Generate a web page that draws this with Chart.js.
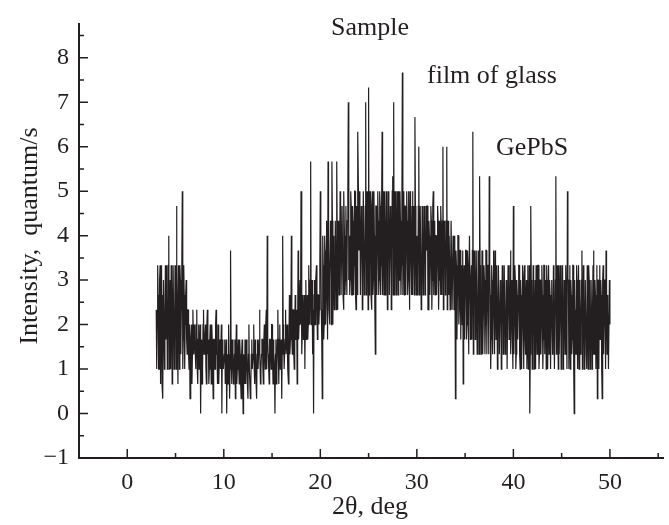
<!DOCTYPE html>
<html>
<head>
<meta charset="utf-8">
<script src="https://cdn.jsdelivr.net/npm/chart.js@4.4.1/dist/chart.umd.min.js"></script>
<style>
  html, body { margin: 0; padding: 0; background: #fff; }
  #wrap { width: 669px; height: 525px; }
</style>
</head>
<body>
<div id="wrap"><canvas id="xrd"></canvas></div>
<script>
// DATA
// scan grid, 2theta in deg
const scanStart = 3.0;
const scanStep = 0.05;
// counts per 3 s window (one row = 1 deg)
const counts = [
  7, 3, 6, 10, 8, 3, 3, 9, 10, 2, 6, 10, 2, 8, 1, 9, 9, 3, 6, 10,
  5, 10, 8, 3, 4, 10, 12, 3, 7, 9, 3, 10, 9, 2, 6, 10, 10, 3, 5, 10,
  8, 3, 14, 10, 6, 2, 10, 9, 3, 10, 9, 4, 7, 10, 15, 3, 5, 10, 8, 3,
  6, 8, 9, 5, 4, 7, 7, 4, 3, 6, 1, 3, 5, 6, 2, 4, 7, 5, 4, 6,
  5, 4, 3, 6, 7, 3, 2, 5, 6, 3, 4, 6, 0, 4, 5, 2, 3, 6, 7, 4,
  4, 5, 6, 3, 2, 6, 7, 4, 5, 2, 3, 5, 6, 4, 2, 6, 5, 3, 1, 5,
  5, 3, 3, 6, 7, 4, 4, 2, 6, 5, 2, 4, 5, 3, 3, 6, 0, 5, 4, 3,
  3, 4, 5, 2, 2, 5, 0, 3, 4, 2, 6, 4, 1, 3, 11, 5, 3, 2, 5, 4,
  2, 3, 4, 5, 1, 4, 6, 2, 3, 4, 5, 3, 2, 5, 4, 2, 1, 4, 5, 3,
  0, 4, 3, 2, 5, 3, 2, 5, 4, 2, 1, 4, 6, 3, 3, 1, 2, 4, 5, 3,
  3, 4, 6, 3, 2, 5, 4, 2, 1, 4, 5, 3, 3, 5, 7, 4, 2, 3, 4, 5,
  5, 3, 2, 5, 6, 4, 3, 6, 7, 3, 12, 5, 4, 3, 2, 5, 5, 4, 3, 6,
  6, 4, 2, 5, 4, 3, 0, 4, 5, 2, 3, 5, 7, 4, 2, 5, 6, 3, 4, 5,
  1, 4, 12, 6, 5, 3, 3, 5, 7, 4, 4, 6, 6, 3, 2, 5, 8, 4, 5, 6,
  12, 5, 4, 7, 7, 4, 3, 6, 8, 5, 5, 7, 2, 6, 11, 5, 6, 8, 9, 6,
  15, 7, 4, 6, 8, 5, 6, 8, 3, 7, 9, 5, 7, 8, 5, 6, 10, 7, 6, 9,
  17, 6, 8, 9, 4, 7, 0, 8, 9, 6, 6, 9, 10, 7, 5, 8, 8, 6, 7, 10,
  15, 12, 7, 5, 1, 12, 10, 5, 6, 12, 11, 6, 8, 13, 9, 5, 17, 12, 7, 6,
  9, 13, 12, 6, 17, 13, 6, 12, 10, 7, 8, 13, 13, 7, 17, 12, 7, 13, 11, 8,
  10, 15, 13, 8, 8, 14, 14, 8, 7, 15, 12, 8, 9, 14, 11, 8, 13, 15, 21, 9,
  12, 8, 9, 15, 14, 8, 8, 14, 13, 8, 10, 15, 15, 8, 7, 14, 12, 8, 19, 15,
  11, 15, 14, 8, 8, 14, 13, 7, 10, 15, 15, 8, 9, 14, 21, 8, 12, 15, 11, 7,
  22, 8, 10, 15, 13, 8, 7, 14, 15, 8, 9, 15, 12, 7, 4, 14, 14, 8, 11, 15,
  13, 8, 9, 15, 14, 8, 10, 14, 19, 8, 12, 15, 8, 14, 15, 8, 11, 15, 13, 7,
  10, 15, 14, 8, 8, 14, 13, 7, 11, 15, 16, 8, 21, 8, 9, 15, 14, 8, 12, 15,
  11, 8, 15, 14, 9, 15, 13, 8, 10, 14, 23, 8, 12, 15, 8, 14, 14, 8, 11, 15,
  13, 8, 9, 15, 12, 7, 15, 14, 10, 8, 14, 15, 8, 14, 13, 8, 20, 14, 11, 8,
  12, 8, 9, 14, 18, 8, 11, 14, 14, 7, 8, 14, 12, 8, 10, 14, 13, 8, 9, 14,
  11, 14, 14, 7, 7, 13, 12, 8, 10, 14, 13, 7, 9, 14, 15, 8, 11, 13, 8, 12,
  12, 8, 10, 14, 13, 7, 9, 13, 11, 8, 14, 12, 8, 13, 18, 7, 10, 13, 12, 8,
  9, 13, 18, 7, 11, 13, 8, 12, 12, 7, 10, 13, 13, 7, 7, 12, 11, 7, 9, 12,
  1, 11, 10, 5, 8, 12, 12, 6, 7, 11, 11, 5, 9, 10, 6, 11, 2, 9, 10, 5,
  8, 11, 11, 5, 6, 11, 10, 4, 7, 12, 12, 5, 9, 10, 5, 11, 19, 4, 8, 11,
  10, 5, 7, 11, 11, 4, 6, 11, 9, 4, 16, 10, 8, 4, 5, 11, 10, 4, 7, 10,
  9, 4, 6, 11, 11, 4, 7, 10, 10, 4, 16, 10, 8, 3, 5, 10, 9, 4, 7, 11,
  8, 4, 11, 8, 5, 10, 9, 3, 7, 10, 10, 4, 4, 9, 8, 3, 6, 10, 9, 4,
  7, 10, 10, 4, 5, 9, 8, 3, 3, 10, 9, 5, 6, 10, 11, 4, 7, 9, 5, 3,
  14, 4, 6, 10, 9, 3, 4, 9, 8, 5, 7, 10, 10, 4, 3, 9, 8, 3, 6, 10,
  7, 3, 9, 10, 5, 4, 8, 9, 3, 5, 10, 3, 6, 10, 0, 4, 14, 9, 8, 3,
  5, 10, 9, 3, 6, 9, 3, 10, 8, 4, 7, 10, 10, 3, 4, 9, 9, 4, 6, 10,
  8, 3, 5, 10, 10, 4, 6, 9, 3, 10, 9, 3, 7, 10, 4, 9, 8, 3, 6, 9,
  9, 4, 5, 10, 7, 3, 3, 9, 16, 4, 8, 10, 6, 3, 10, 4, 4, 10, 7, 3,
  6, 10, 9, 3, 4, 9, 8, 4, 5, 10, 7, 3, 15, 9, 9, 3, 6, 10, 3, 9,
  8, 4, 5, 10, 10, 3, 0, 9, 7, 4, 4, 10, 9, 3, 6, 10, 3, 9, 8, 4,
  6, 9, 11, 3, 4, 10, 8, 3, 5, 9, 9, 4, 3, 10, 7, 3, 10, 9, 6, 3,
  5, 9, 9, 3, 7, 10, 11, 4, 4, 9, 8, 3, 6, 10, 1, 9, 9, 3, 7, 10,
  5, 9, 8, 3, 1, 9, 10, 4, 6, 9, 9, 3, 11, 9, 4, 8, 7, 3, 3, 9,
  6
];
const countTime = 3; // s

const xTicks = [0, 10, 20, 30, 40, 50];
const yTicks = [-1, 0, 1, 2, 3, 4, 5, 6, 7, 8];
const notes = ['Sample', 'film of glass', 'GePbS'];

const points = counts.map((c, i) => ({
  x: +(scanStart + i * scanStep).toFixed(2),
  y: c / countTime
}));

const ink = '#231f20';
const serif = '"Liberation Serif", "DejaVu Serif", serif';

// inward ticks, axis titles and labels drawn on top
const frame = {
  id: 'frame',
  afterDraw(chart) {
    const ctx = chart.ctx;
    const xs = chart.scales.x, ys = chart.scales.y;
    const a = chart.chartArea;
    ctx.save();
    ctx.strokeStyle = ink;
    ctx.lineWidth = 1.5;
    ctx.beginPath();
    for (let v = -5; v <= 55; v += 5) {
      const px = xs.getPixelForValue(v);
      const len = v % 10 === 0 ? 9 : 5;
      ctx.moveTo(px, a.bottom);
      ctx.lineTo(px, a.bottom - len);
    }
    for (let v = -1; v <= 8.5; v += 0.5) {
      const py = ys.getPixelForValue(v);
      const len = Number.isInteger(v) ? 9 : 5;
      ctx.moveTo(a.left, py);
      ctx.lineTo(a.left + len, py);
    }
    ctx.stroke();

    ctx.fillStyle = ink;
    ctx.font = '26px ' + serif;
    ctx.textAlign = 'center';
    ctx.textBaseline = 'alphabetic';
    ctx.fillText('2\u03b8, deg', 370, 514);
    ctx.save();
    ctx.translate(37, 236);
    ctx.rotate(-Math.PI / 2);
    ctx.fillText('Intensity,  quantum/s', 0, 0);
    ctx.restore();

    ctx.textAlign = 'left';
    ctx.fillText(notes[0], 331, 35);
    ctx.fillText(notes[1], 427, 83);
    ctx.fillText(notes[2], 496, 155);
    ctx.restore();
  }
};

new Chart(document.getElementById('xrd'), {
  type: 'line',
  data: {
    datasets: [{
      data: points,
      borderColor: ink,
      borderWidth: 1.2,
      pointRadius: 0,
      tension: 0,
      fill: false
    }]
  },
  options: {
    responsive: true,
    maintainAspectRatio: false,
    animation: false,
    parsing: false,
    layout: { padding: { top: 19, right: 6, left: 0, bottom: 0 } },
    plugins: { legend: { display: false }, tooltip: { enabled: false } },
    scales: {
      x: {
        type: 'linear',
        min: -5,
        max: 55.5,
        afterFit(s) { s.height = 67; },
        afterBuildTicks(s) { s.ticks = xTicks.map(v => ({ value: v })); },
        grid: { display: false, drawTicks: false },
        border: { display: true, color: ink, width: 2 },
        ticks: {
          color: ink,
          padding: 10,
          maxRotation: 0,
          font: { family: serif, size: 24 }
        }
      },
      y: {
        min: -1,
        max: 8.75,
        afterFit(s) { s.width = 79; },
        afterBuildTicks(s) { s.ticks = yTicks.map(v => ({ value: v })); },
        grid: { display: false, drawTicks: false },
        border: { display: true, color: ink, width: 2 },
        ticks: {
          color: ink,
          padding: 10,
          font: { family: serif, size: 24 },
          callback: v => (v < 0 ? '\u2212' + Math.abs(v) : String(v))
        }
      }
    }
  },
  plugins: [frame]
});
</script>
</body>
</html>
